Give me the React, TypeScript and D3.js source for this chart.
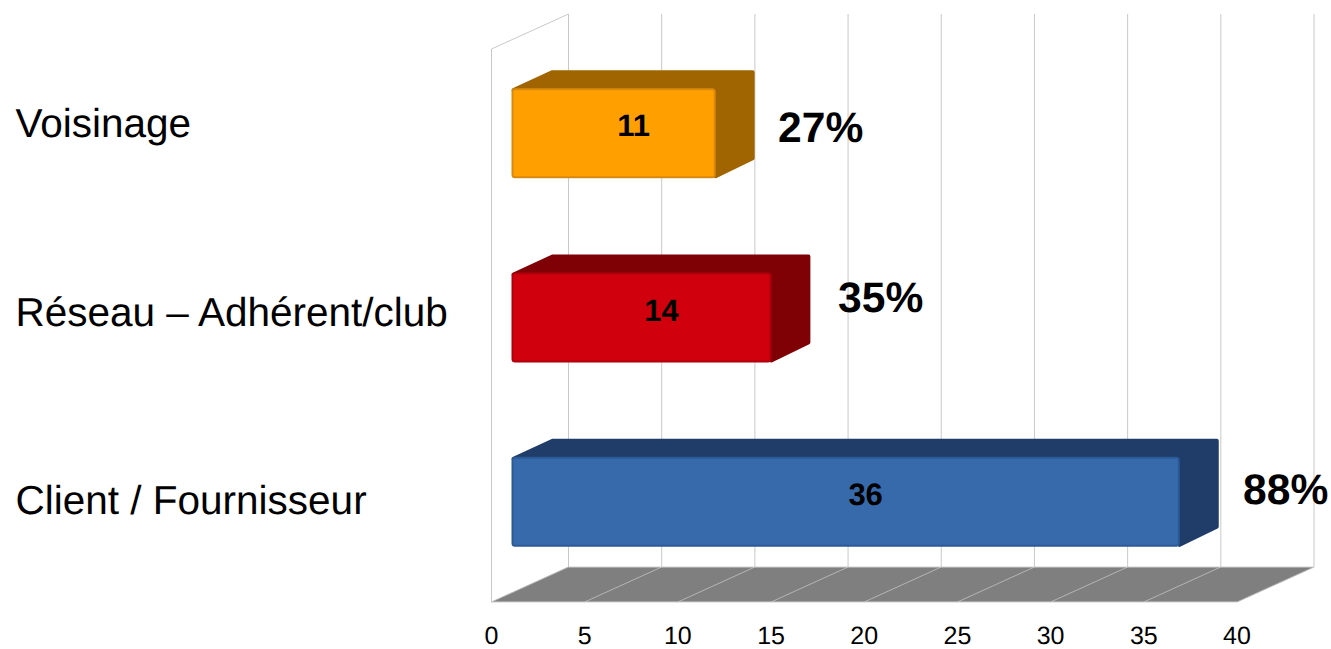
import { useEffect, useRef } from "react";
import * as d3 from "d3";

const categories = ["Voisinage", "Réseau – Adhérent/club", "Client / Fournisseur"];
const values = [11, 14, 36];
const percents = ["27%", "35%", "88%"];
const percentX = [778, 838, 1243];
const percentY = [142, 312, 504];
const labelY = [137, 326, 514];
const frontColors = ["#ffa000", "#d1000d", "#376aab"];
const edgeColors = ["#d98a0c", "#b0000c", "#2c5a96"];
const sideColors = ["#a06400", "#7f0005", "#1f3d68"];
const ticks = [0, 5, 10, 15, 20, 25, 30, 35, 40];

const FONT = "'Liberation Sans', Arial, sans-serif";

export default function App() {
  const ref = useRef<SVGSVGElement>(null);

  useEffect(() => {
    const svg = d3.select(ref.current);
    svg.selectAll("*").remove();

    const x = d3.scaleLinear().domain([0, 40]).range([491.5, 1237]);
    const y = d3
      .scaleBand<string>()
      .domain(categories)
      .range([49, 602])
      .paddingInner(0.512)
      .paddingOuter(0.256);
    // floor / wall depth offset
    const depthX = 77;
    const depthY = -35;
    // bars sit in the middle of the depth
    const barX = d3.scaleLinear().domain([0, 40]).range([511.5, 1254]);
    const barDx = 38;
    const barDy = -18;
    const barShiftY = -8;
    const top = 49;
    const bottom = 602;

    const line = d3.line();

    // floor
    svg
      .append("path")
      .attr(
        "d",
        line([
          [x(0), bottom],
          [x(0) + depthX, bottom + depthY],
          [x(40) + depthX, bottom + depthY],
          [x(40), bottom],
        ]) + "Z"
      )
      .attr("fill", "#7f7f7f");

    // back wall grid
    svg
      .append("g")
      .selectAll("line")
      .data(ticks)
      .enter()
      .append("line")
      .attr("x1", (d) => x(d) + depthX)
      .attr("x2", (d) => x(d) + depthX)
      .attr("y1", top + depthY)
      .attr("y2", bottom + depthY)
      .attr("stroke", "#c9c9c9")
      .attr("stroke-width", 1);

    // floor grid
    svg
      .append("g")
      .selectAll("line")
      .data(ticks)
      .enter()
      .append("line")
      .attr("x1", (d) => x(d))
      .attr("x2", (d) => x(d) + depthX)
      .attr("y1", bottom)
      .attr("y2", bottom + depthY)
      .attr("stroke", "#b5b5b5")
      .attr("stroke-width", 1);

    // floor edges and side wall
    svg
      .append("path")
      .attr(
        "d",
        line([
          [x(0), bottom],
          [x(40), bottom],
        ])
      )
      .attr("stroke", "#d0d0d0")
      .attr("fill", "none");
    svg
      .append("path")
      .attr(
        "d",
        line([
          [x(0) + depthX, bottom + depthY],
          [x(40) + depthX, bottom + depthY],
        ])
      )
      .attr("stroke", "#d0d0d0")
      .attr("fill", "none");
    svg
      .append("path")
      .attr(
        "d",
        line([
          [x(0), bottom],
          [x(0), top],
          [x(0) + depthX, top + depthY],
        ])
      )
      .attr("stroke", "#c9c9c9")
      .attr("fill", "none");

    // bars
    const bars = svg
      .append("g")
      .selectAll("g")
      .data(values)
      .enter()
      .append("g");

    const frontTop = (i: number) => (y(categories[i]) as number) + barShiftY;
    const h = y.bandwidth();
    const inset = 2;

    // top and side faces, thick round stroke gives the soft corners
    bars
      .append("path")
      .attr("d", (d, i) => {
        const t = frontTop(i);
        const x0 = barX(0);
        const x1 = barX(d);
        return (
          line([
            [x0 + inset, t + inset],
            [x0 + barDx + 3, t + barDy + inset],
            [x1 + barDx - inset + 1, t + barDy + inset],
            [x1 + barDx - inset + 1, t + h + barDy - inset],
            [x1, t + h - inset],
            [x1, t + inset],
          ]) + "Z"
        );
      })
      .attr("fill", (_, i) => sideColors[i])
      .attr("stroke", (_, i) => sideColors[i])
      .attr("stroke-width", inset * 2)
      .attr("stroke-linejoin", "round");

    bars
      .append("rect")
      .attr("x", barX(0) + 1)
      .attr("y", (_, i) => frontTop(i) + 1)
      .attr("width", (d) => barX(d) - barX(0) - 2)
      .attr("height", h - 2)
      .attr("rx", 2.5)
      .attr("fill", (_, i) => frontColors[i])
      .attr("stroke", (_, i) => edgeColors[i])
      .attr("stroke-width", 2);

    // value labels
    bars
      .append("text")
      .attr("x", (d) => (barX(0) + barX(d)) / 2 + 20)
      .attr("y", (_, i) => frontTop(i) + h / 2 - 5)
      .attr("text-anchor", "middle")
      .attr("dominant-baseline", "middle")
      .style("font-family", FONT)
      .style("font-weight", "bold")
      .style("font-size", "31px")
      .style("text-rendering", "geometricPrecision")
      .text((d) => d);

    // percent labels
    svg
      .append("g")
      .selectAll("text")
      .data(percents)
      .enter()
      .append("text")
      .attr("x", (_, i) => percentX[i])
      .attr("y", (_, i) => percentY[i])
      .style("font-family", FONT)
      .style("font-weight", "bold")
      .style("font-size", "42.6px")
      .style("text-rendering", "geometricPrecision")
      .text((d) => d);

    // category labels
    svg
      .append("g")
      .selectAll("text")
      .data(categories)
      .enter()
      .append("text")
      .attr("x", 15.5)
      .attr("y", (_, i) => labelY[i])
      .style("font-family", FONT)
      .style("font-size", "40.5px")
      .style("text-rendering", "geometricPrecision")
      .text((d) => d);

    // x axis labels
    svg
      .append("g")
      .selectAll("text")
      .data(ticks)
      .enter()
      .append("text")
      .attr("x", (d) => x(d))
      .attr("y", 643.7)
      .attr("text-anchor", "middle")
      .style("font-family", FONT)
      .style("font-size", "25px")
      .style("text-rendering", "geometricPrecision")
      .text((d) => d);
  }, []);

  return (
    <svg
      ref={ref}
      width={1331}
      height={649}
      style={{ position: "absolute", left: 0, top: 0, display: "block", background: "#fff" }}
    ></svg>
  );
}
